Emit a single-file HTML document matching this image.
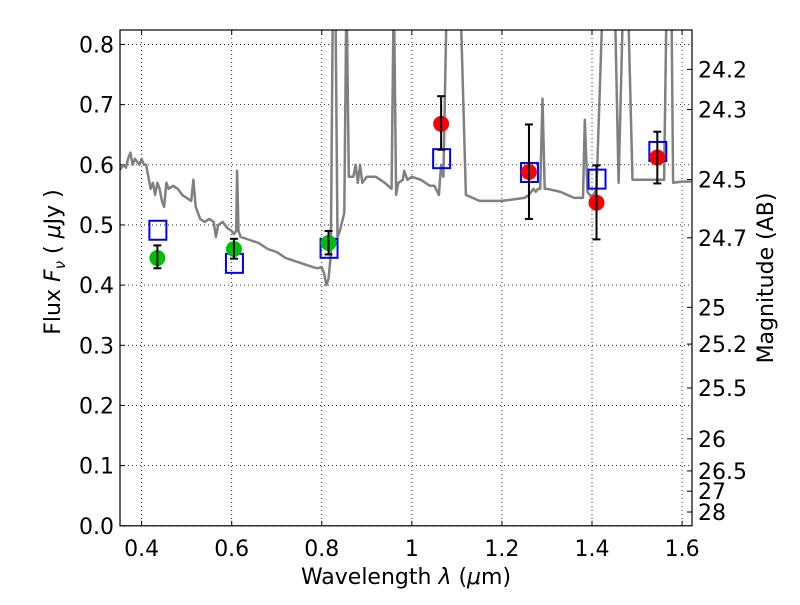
<!DOCTYPE html>
<html><head><meta charset="utf-8"><style>
body{margin:0;background:#fff}
svg text{font-family:"DejaVu Sans","Liberation Sans",sans-serif;fill:#000}
</style></head><body>
<svg id="chart" width="800" height="600" xmlns="http://www.w3.org/2000/svg"></svg>
<script>
const specWave=[0.35,0.36,0.365,0.37,0.375,0.38,0.385,0.39,0.395,0.40,0.405,0.41,0.415,0.42,0.425,0.43,0.435,0.44,0.445,0.45,0.455,0.46,0.47,0.48,0.49,0.50,0.51,0.515,0.52,0.53,0.54,0.55,0.56,0.565,0.57,0.58,0.59,0.60,0.605,0.61,0.612,0.615,0.62,0.64,0.66,0.68,0.70,0.72,0.74,0.76,0.78,0.79,0.80,0.805,0.81,0.815,0.82,0.825,0.83,0.835,0.84,0.85,0.855,0.86,0.87,0.875,0.88,0.885,0.89,0.90,0.92,0.94,0.955,0.96,0.965,0.97,0.98,0.983,0.99,1.00,1.02,1.04,1.05,1.06,1.065,1.07,1.078,1.09,1.107,1.12,1.15,1.2,1.25,1.26,1.27,1.275,1.28,1.285,1.29,1.295,1.30,1.33,1.36,1.38,1.384,1.39,1.40,1.41,1.425,1.45,1.459,1.47,1.479,1.49,1.52,1.54,1.56,1.566,1.576,1.58,1.60,1.62];
const specFlux=[0.59,0.60,0.595,0.61,0.62,0.60,0.61,0.605,0.60,0.61,0.60,0.60,0.58,0.56,0.57,0.55,0.57,0.56,0.54,0.53,0.57,0.56,0.565,0.56,0.55,0.545,0.54,0.575,0.53,0.51,0.505,0.51,0.505,0.48,0.50,0.505,0.495,0.49,0.485,0.49,0.59,0.49,0.48,0.475,0.47,0.46,0.455,0.445,0.44,0.435,0.43,0.428,0.43,0.42,0.40,0.41,0.45,0.9,0.9,0.48,0.49,0.52,0.9,0.58,0.58,0.60,0.57,0.60,0.57,0.58,0.58,0.57,0.56,0.9,0.55,0.57,0.575,0.59,0.575,0.58,0.575,0.565,0.565,0.55,0.60,0.58,0.9,0.9,0.9,0.55,0.54,0.54,0.545,0.55,0.56,0.555,0.56,0.56,0.71,0.56,0.56,0.555,0.545,0.545,0.675,0.555,0.545,0.56,0.9,0.9,0.57,0.9,0.9,0.575,0.575,0.575,0.575,0.9,0.9,0.57,0.572,0.572];
const obsWave=[0.435,0.605,0.815,1.065,1.26,1.41,1.545];
const modelFlux=[0.492,0.437,0.462,0.611,0.588,0.577,0.623];
const greenWave=[0.435,0.605,0.815];
const greenFlux=[0.445,0.46,0.47];
const greenLo=[0.428,0.444,0.451];
const greenHi=[0.466,0.477,0.49];
const redWave=[1.065,1.26,1.41,1.545];
const redFlux=[0.668,0.588,0.537,0.612];
const redLo=[0.625,0.51,0.476,0.569];
const redHi=[0.714,0.667,0.599,0.655];
const xTicks=[0.4,0.6,0.8,1.0,1.2,1.4,1.6];
const xTickLabels=["0.4","0.6","0.8","1","1.2","1.4","1.6"];
const yTicks=[0,0.1,0.2,0.3,0.4,0.5,0.6,0.7,0.8];
const yTickLabels=["0.0","0.1","0.2","0.3","0.4","0.5","0.6","0.7","0.8"];
const magTicks=[24.2,24.3,24.5,24.7,25,25.2,25.5,26,26.5,27,28];
const magLabels=["24.2","24.3","24.5","24.7","25","25.2","25.5","26","26.5","27","28"];

const L=120,R=692,T=30,B=525.8;
const x0=0.352,x1=1.622,y0=0,y1=0.824;
const X=v=>L+(v-x0)/(x1-x0)*(R-L);
const Y=v=>B-(v-y0)/(y1-y0)*(B-T);
const NS="http://www.w3.org/2000/svg";
const svg=document.getElementById('chart');
function mk(tag,attrs,parent){const e=document.createElementNS(NS,tag);for(const k in attrs)e.setAttribute(k,attrs[k]);(parent||svg).appendChild(e);return e;}

const defs=mk('defs',{});
const cp=mk('clipPath',{id:'clip'},defs);
mk('rect',{x:L,y:T,width:R-L,height:B-T},cp);

xTicks.forEach((t,i)=>{
  const g=mk('line',{x1:X(t),x2:X(t),y1:T,y2:B,stroke:'#000','stroke-width':0.8,'stroke-dasharray':'1,3'});
  
  
  mk('line',{x1:X(t),x2:X(t),y1:B,y2:B-5,stroke:'#000'});
  mk('line',{x1:X(t),x2:X(t),y1:T,y2:T+5,stroke:'#000'});
  const tx=mk('text',{x:X(t),y:B+30,'font-size':22,'text-anchor':'middle'});
  tx.textContent=xTickLabels[i];
  
  
});
yTicks.forEach((t,i)=>{
  const g=mk('line',{x1:L,x2:R,y1:Y(t),y2:Y(t),stroke:'#000','stroke-width':0.8,'stroke-dasharray':'1,3'});
  
  
  mk('line',{x1:L,x2:L+5,y1:Y(t),y2:Y(t),stroke:'#000'});
  const tx=mk('text',{x:L-6,y:Y(t)+8,'font-size':22,'text-anchor':'end'});
  tx.textContent=yTickLabels[i];
  
  
});
magTicks.forEach((m,i)=>{
  const f=Math.pow(10,(23.9-m)/2.5);
  mk('line',{x1:R-5,x2:R,y1:Y(f),y2:Y(f),stroke:'#000'});
  const tx=mk('text',{x:R+6,y:Y(f)+8,'font-size':22});
  tx.textContent=magLabels[i];
  
  
});

const pts=specWave.map((w,i)=>X(w).toFixed(1)+','+Y(specFlux[i]).toFixed(1)).join(' ');
const sp=mk('polyline',{points:pts,fill:'none',stroke:'#808080','stroke-width':2.5,'clip-path':'url(#clip)','stroke-linejoin':'round'});



obsWave.forEach((w,i)=>{
  const s=mk('rect',{x:X(w)-8,y:Y(modelFlux[i])-9,width:17,height:19,fill:'none',stroke:'#0000ff','stroke-width':2});
  
  
});
function errbar(w,lo,hi){
  mk('line',{x1:X(w),x2:X(w),y1:Y(lo),y2:Y(hi),stroke:'#000','stroke-width':2});
  mk('line',{x1:X(w)-4,x2:X(w)+4,y1:Y(lo),y2:Y(lo),stroke:'#000','stroke-width':2});
  mk('line',{x1:X(w)-4,x2:X(w)+4,y1:Y(hi),y2:Y(hi),stroke:'#000','stroke-width':2});
}
greenWave.forEach((w,i)=>{
  const c=mk('circle',{cx:X(w),cy:Y(greenFlux[i]),r:8,fill:'#00bf00'});
  
  
  errbar(w,greenLo[i],greenHi[i]);
});
redWave.forEach((w,i)=>{
  const c=mk('circle',{cx:X(w),cy:Y(redFlux[i]),r:8,fill:'#ff0000'});
  
  
  errbar(w,redLo[i],redHi[i]);
});

const fr=mk('rect',{x:L,y:T,width:R-L,height:B-T,fill:'none',stroke:'#000','stroke-width':1.2});



const xl=mk('text',{x:406,y:584,'font-size':22,'text-anchor':'middle'});
xl.innerHTML='Wavelength  <tspan font-style="italic">λ</tspan> (<tspan font-style="italic">μ</tspan>m)';


const yl=mk('text',{x:0,y:0,'font-size':22,'text-anchor':'middle',transform:'translate(60,262) rotate(-90)'});
yl.innerHTML='Flux  <tspan font-style="italic">F</tspan><tspan font-style="italic" font-size="15" dy="5">ν</tspan><tspan dy="-5">  (  </tspan><tspan font-style="italic">μ</tspan>Jy )';


const rl=mk('text',{x:0,y:0,'font-size':22,'text-anchor':'middle',transform:'translate(773,278) rotate(-90)'});
rl.textContent='Magnitude (AB)';


</script>
</body></html>
